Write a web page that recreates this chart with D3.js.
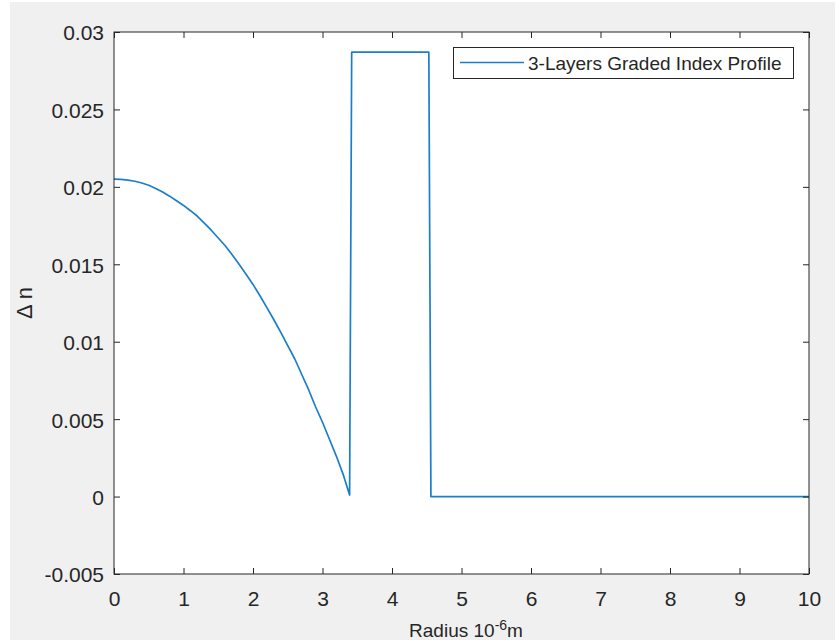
<!DOCTYPE html>
<html>
<head>
<meta charset="utf-8">
<script src="https://cdn.jsdelivr.net/npm/d3@7"></script>
<style>
  html, body { margin: 0; padding: 0; background: #ffffff; }
  svg { display: block; }
  text { font-family: "Liberation Sans", Arial, Helvetica, sans-serif; fill: #262626; }
</style>
</head>
<body>
<script>
// Radial positions (10^-6 m) of the 3-layer graded index profile
const radius = [0, 0.1, 0.2, 0.3, 0.4, 0.5, 0.6, 0.7, 0.8, 0.9, 1.0, 1.1, 1.2, 1.3, 1.4, 1.5, 1.6, 1.7, 1.8, 1.9,
  2.0, 2.1, 2.2, 2.3, 2.4, 2.5, 2.6, 2.7, 2.8, 2.9, 3.0, 3.1, 3.2, 3.3, 3.39, 3.42, 4.53, 4.56, 10];
// Refractive index difference at each radius
const deltaN = [0.0205, 0.02048, 0.02044, 0.02036, 0.02025, 0.0201, 0.0199, 0.01967, 0.0194, 0.0191,
  0.0188, 0.01846, 0.0181, 0.01766, 0.0172, 0.0167, 0.0162, 0.01562, 0.0150, 0.01436,
  0.0137, 0.01297, 0.0122, 0.01142, 0.0106, 0.00975, 0.0089, 0.0079, 0.0069, 0.0058,
  0.0048, 0.0037, 0.0026, 0.0014, 0.0001, 0.0287, 0.0287, 0, 0];

const xTicks = [0, 1, 2, 3, 4, 5, 6, 7, 8, 9, 10];
const yTicks = [-0.005, 0, 0.005, 0.01, 0.015, 0.02, 0.025, 0.03];
const yTickLabels = ["-0.005", "0", "0.005", "0.01", "0.015", "0.02", "0.025", "0.03"];
const seriesName = "3-Layers Graded Index Profile";

const W = 835, H = 640;
const margin = { left: 114, top: 32, right: 26, bottom: 66 };
const iw = W - margin.left - margin.right;
const ih = H - margin.top - margin.bottom;
const axisColor = "#262626";
const lineColor = "#1a7fc8";
const fontSize = 19;
const tickFontSize = 21;

const svg = d3.select("body").append("svg").attr("width", W).attr("height", H);

// figure background
svg.append("rect").attr("x", 10).attr("y", 2).attr("width", W - 10).attr("height", H - 2).attr("fill", "#f0f0f0");

const x = d3.scaleLinear().domain([0, 10]).range([margin.left, margin.left + iw]);
const y = d3.scaleLinear().domain([-0.005, 0.03]).range([margin.top + ih, margin.top]);

// plot area
svg.append("rect").attr("x", margin.left).attr("y", margin.top).attr("width", iw).attr("height", ih).attr("fill", "#ffffff");

// data line
const pts = radius.map((r, i) => [r, deltaN[i]]);
svg.append("path")
  .datum(pts)
  .attr("fill", "none")
  .attr("stroke", lineColor)
  .attr("stroke-width", 1.7)
  .attr("stroke-linejoin", "round")
  .attr("d", d3.line().x(d => x(d[0])).y(d => y(d[1])));

const tickLen = 6;
function styleAxis(g) {
  g.select(".domain").remove();
  g.selectAll(".tick line").attr("stroke", axisColor).attr("stroke-width", 1);
  g.selectAll(".tick text").attr("font-size", tickFontSize).attr("fill", axisColor)
    .style("font-family", '"Liberation Sans", Arial, sans-serif');
}

// bottom axis (inward ticks)
const axBottom = svg.append("g").attr("transform", `translate(0,${margin.top + ih})`)
  .call(d3.axisBottom(x).tickValues(xTicks).tickFormat(d3.format("d")).tickSizeInner(-tickLen).tickSizeOuter(0));
styleAxis(axBottom);
axBottom.selectAll(".tick text").attr("dy", "0.71em").attr("y", 17);

// top axis ticks
const axTop = svg.append("g").attr("transform", `translate(0,${margin.top})`)
  .call(d3.axisTop(x).tickValues(xTicks).tickFormat("").tickSizeInner(-tickLen).tickSizeOuter(0));
styleAxis(axTop);

// left axis
const axLeft = svg.append("g").attr("transform", `translate(${margin.left},0)`)
  .call(d3.axisLeft(y).tickValues(yTicks).tickFormat((d, i) => yTickLabels[i]).tickSizeInner(-tickLen).tickSizeOuter(0));
styleAxis(axLeft);
axLeft.selectAll(".tick text").attr("x", -10).attr("dy", "0.38em");

// right axis ticks
const axRight = svg.append("g").attr("transform", `translate(${margin.left + iw},0)`)
  .call(d3.axisRight(y).tickValues(yTicks).tickFormat("").tickSizeInner(-tickLen).tickSizeOuter(0));
styleAxis(axRight);

// box
svg.append("rect").attr("x", margin.left).attr("y", margin.top).attr("width", iw).attr("height", ih)
  .attr("fill", "none").attr("stroke", axisColor).attr("stroke-width", 1);

// legend
const lg = svg.append("g");
lg.append("rect").attr("x", 453.5).attr("y", 47.5).attr("width", 340).attr("height", 31)
  .attr("fill", "#ffffff").attr("stroke", axisColor).attr("stroke-width", 1);
lg.append("line").attr("x1", 460).attr("x2", 524).attr("y1", 62.5).attr("y2", 62.5)
  .attr("stroke", lineColor).attr("stroke-width", 1.7);
lg.append("text").attr("x", 528).attr("y", 69.5).attr("font-size", fontSize).text(seriesName);

// x label
const xl = svg.append("text").attr("x", 466).attr("y", 637).attr("text-anchor", "middle").attr("font-size", fontSize);
xl.append("tspan").text("Radius 10");
xl.append("tspan").attr("dy", -7).attr("font-size", 14).text("-6");
xl.append("tspan").attr("dy", 7).text("m");

// y label
svg.append("text").attr("transform", "translate(32,303) rotate(-90)").attr("text-anchor", "middle")
  .attr("font-size", 22).text("Δ n");
</script>
</body>
</html>
